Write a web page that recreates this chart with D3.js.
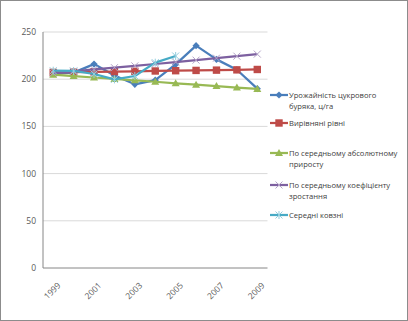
<!DOCTYPE html>
<html>
<head>
<meta charset="utf-8">
<script src="https://cdn.jsdelivr.net/npm/d3@7"></script>
<style>
  body { margin: 0; background: #fff; }
  text { font-family: 'Open Sans', sans-serif; }
</style>
</head>
<body>
<div id="chartArea"></div>
<script>
// years on the category axis
const years = [1999, 2000, 2001, 2002, 2003, 2004, 2005, 2006, 2007, 2008, 2009]
const yTicks = [0, 50, 100, 150, 200, 250]

// series values, c/ha
const actual = [206, 207, 216, 204, 194.6, 199, 215.7, 235.5, 221, 210, 190]
const aligned = [207.2, 207.5, 207.8, 208.1, 208.4, 208.7, 209.0, 209.3, 209.6, 209.9, 210.3]
const absGrowth = [204.8, 203.3, 201.8, 200.3, 198.8, 197.3, 195.7, 194.2, 192.7, 191.2, 189.7]
const coefGrowth = [206.5, 208.4, 210.3, 212.2, 214.1, 216.1, 218.2, 220.2, 222.3, 224.4, 226.6]
const movingAvg = [209, 208.7, 205.5, 199.8, 203.4, 217.5, 224.6]

const series = [
  { name: ['Урожайність цукрового', 'буряка, ц/га'], values: actual, color: '#4a7ebb', marker: 'diamond' },
  { name: ['Вирівняні рівні'], values: aligned, color: '#be4b48', marker: 'square' },
  { name: ['По середньому абсолютному', 'приросту'], values: absGrowth, color: '#98b954', marker: 'triangle' },
  { name: ['По середньому коефіцієнту', 'зростання'], values: coefGrowth, color: '#7d60a0', marker: 'cross' },
  { name: ['Середні ковзні'], values: movingAvg, color: '#46aac5', marker: 'star' }
]

const width = 408
const height = 321
const margin = { top: 32, right: 140, bottom: 53, left: 43 }
const plotWidth = 224.5
const innerHeight = height - margin.top - margin.bottom

const svg = d3.select('#chartArea')
  .append('svg')
  .attr('width', width)
  .attr('height', height)

// outer frame
svg.append('rect')
  .attr('x', 0.5).attr('y', 0.5)
  .attr('width', width - 1).attr('height', height - 1)
  .attr('fill', '#fff')
  .attr('stroke', '#8c8c8c')

const xScale = d3.scaleBand()
  .domain(years)
  .range([0, plotWidth])

const yScale = d3.scaleLinear()
  .domain([0, 250])
  .range([innerHeight, 0])

const plotG = svg.append('g')
  .attr('transform', `translate(${margin.left},${margin.top})`)

// grid lines
plotG.selectAll('.grid')
  .data(yTicks.filter(d => d > 0))
  .join('line')
  .attr('x1', 0)
  .attr('x2', plotWidth)
  .attr('y1', d => yScale(d))
  .attr('y2', d => yScale(d))
  .attr('stroke', '#d9d9d9')
  .attr('stroke-width', 1)

// y tick labels
plotG.selectAll('.ylab')
  .data(yTicks)
  .join('text')
  .attr('x', -7)
  .attr('y', d => yScale(d))
  .attr('dy', '0.35em')
  .attr('text-anchor', 'end')
  .attr('font-size', 8.5)
  .attr('fill', '#595959')
  .text(d => d)

// axis lines
plotG.append('line')
  .attr('x1', 0).attr('x2', 0)
  .attr('y1', 0).attr('y2', innerHeight)
  .attr('stroke', '#868686')
plotG.append('line')
  .attr('x1', 0).attr('x2', plotWidth)
  .attr('y1', innerHeight).attr('y2', innerHeight)
  .attr('stroke', '#868686')

// x labels, every second year
const cx = d => xScale(d) + xScale.bandwidth() / 2
plotG.selectAll('.xlab')
  .data(years.filter((d, i) => i % 2 === 0))
  .join('text')
  .attr('transform', d => `translate(${cx(d) + 8},${innerHeight + 18}) rotate(-45)`)
  .attr('text-anchor', 'end')
  .attr('font-size', 8.5)
  .attr('fill', '#595959')
  .text(d => d)

// marker shapes
const drawMarker = (g, type, color) => {
  if (type === 'diamond') {
    g.append('path').attr('d', 'M0,-3.6L3.6,0L0,3.6L-3.6,0Z').attr('fill', color)
  } else if (type === 'square') {
    g.append('rect').attr('x', -3.7).attr('y', -3.7).attr('width', 7.4).attr('height', 7.4).attr('fill', color)
  } else if (type === 'triangle') {
    g.append('path').attr('d', 'M0,-4L4,3L-4,3Z').attr('fill', color)
  } else if (type === 'cross') {
    g.append('path').attr('d', 'M-3.5,-3.5L3.5,3.5M-3.5,3.5L3.5,-3.5')
      .attr('stroke', '#b3a2c7').attr('stroke-width', 1).attr('fill', 'none')
  } else if (type === 'star') {
    g.append('path').attr('d', 'M-3.5,-3.5L3.5,3.5M-3.5,3.5L3.5,-3.5M0,-4L0,4')
      .attr('stroke', '#93cddd').attr('stroke-width', 1).attr('fill', 'none')
  }
}

const line = d3.line()
  .x((d, i) => cx(years[i]))
  .y(d => yScale(d))

// series lines and markers
series.forEach(s => {
  const g = plotG.append('g')
  g.append('path')
    .datum(s.values)
    .attr('d', line)
    .attr('fill', 'none')
    .attr('stroke', s.color)
    .attr('stroke-width', 2.25)
    .attr('stroke-linejoin', 'round')
  s.values.forEach((v, i) => {
    const m = g.append('g').attr('transform', `translate(${cx(years[i])},${yScale(v)})`)
    drawMarker(m, s.marker, s.color)
  })
})

// legend
const legendY = [95, 123, 153, 185, 215]
const legendG = svg.append('g')
series.forEach((s, i) => {
  const y = legendY[i]
  legendG.append('line')
    .attr('x1', 270).attr('x2', 288)
    .attr('y1', y).attr('y2', y)
    .attr('stroke', s.color)
    .attr('stroke-width', 2.25)
  drawMarker(legendG.append('g').attr('transform', `translate(279,${y})`), s.marker, s.color)
  s.name.forEach((t, j) => {
    legendG.append('text')
      .attr('x', 289)
      .attr('y', y + j * 11)
      .attr('dy', '0.35em')
      .attr('font-size', 7.6)
      .attr('fill', '#404040')
      .text(t)
  })
})
</script>
</body>
</html>
